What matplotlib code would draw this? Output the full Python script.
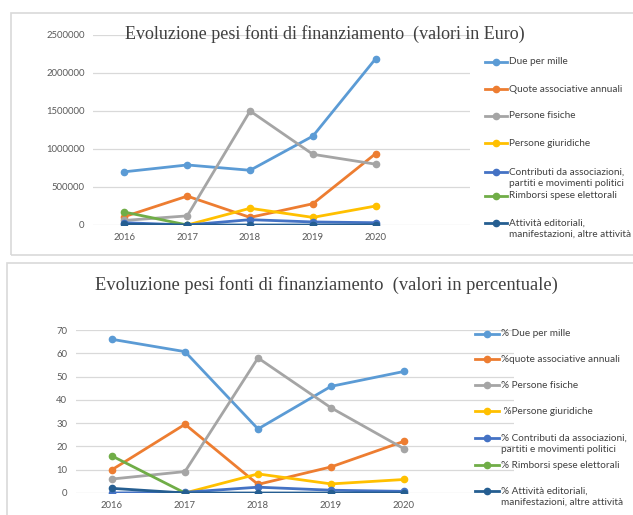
import matplotlib.pyplot as plt
import numpy as np
from matplotlib.lines import Line2D
from matplotlib.patches import Rectangle

nan = np.nan
years = ['2016', '2017', '2018', '2019', '2020']

# valori in Euro
euro_due_per_mille = [700000, 790000, 720000, 1170000, 2190000]
euro_quote = [110000, 380000, 100000, 280000, 940000]
euro_fisiche = [60000, 120000, 1500000, 930000, 800000]
euro_giuridiche = [nan, 0, 220000, 100000, 250000]
euro_contributi = [30000, 0, 70000, 40000, 30000]
euro_rimborsi = [170000, 0, nan, nan, nan]
euro_attivita = [10000, 0, 0, 0, 0]

# valori in percentuale
pct_due_per_mille = [66.0, 60.7, 27.5, 45.8, 52.2]
pct_quote = [10.0, 29.5, 3.7, 11.2, 22.2]
pct_fisiche = [6.0, 9.2, 58.0, 36.6, 19.0]
pct_giuridiche = [nan, 0, 8.2, 3.9, 5.8]
pct_contributi = [0, 0.3, 2.5, 1.2, 0.7]
pct_rimborsi = [15.9, 0, nan, nan, nan]
pct_attivita = [2.0, 0, 0, 0, 0]

labels_euro = ['Due per mille', 'Quote associative annuali', 'Persone fisiche',
               'Persone giuridiche', 'Contributi da associazioni,\npartiti e movimenti politici',
               'Rimborsi spese elettorali', 'Attività editoriali,\nmanifestazioni, altre attività']
labels_pct = ['% Due per mille', '%quote associative annuali', '% Persone fisiche',
              ' %Persone giuridiche', '% Contributi da associazioni,\npartiti e movimenti politici',
              '% Rimborsi spese elettorali', '% Attività editoriali,\nmanifestazioni, altre attività']

colors = ['#5B9BD5', '#ED7D31', '#A5A5A5', '#FFC000', '#4472C4', '#70AD47', '#255E91']

W, H = 633, 515
fig = plt.figure(figsize=(W / 100, H / 100), dpi=100)
sans = ['Lato', 'DejaVu Sans']
serif = ['Liberation Serif', 'DejaVu Serif']
tick_col = '#595959'


def px(x, y):
    return x / W, 1 - y / H


# panel frames
fig.add_artist(Rectangle(px(11, 255), (W + 5 - 11) / W, (255 - 13) / H,
                         fill=False, ec='#d9d9d9', lw=1.2, transform=fig.transFigure))
fig.add_artist(Rectangle(px(7, H + 5), (W + 5 - 7) / W, (H + 5 - 263) / H,
                         fill=False, ec='#d9d9d9', lw=1.2, transform=fig.transFigure))


def draw_panel(ax, series, yticks, ylim):
    x = np.arange(len(years))
    for s, c in zip(series, colors):
        ax.plot(x, s, color=c, lw=2.0, marker='o', ms=4.5, zorder=3)
    ax.set_xlim(-0.5, 5.5)
    ax.set_ylim(*ylim)
    ax.set_xticks(x)
    ax.set_xticklabels(years, family=sans, fontsize=6.8, color=tick_col)
    ax.set_yticks(yticks)
    ax.set_yticklabels([str(v) for v in yticks], family=sans, fontsize=6.8, color=tick_col)
    ax.tick_params(length=0, pad=6)
    ax.grid(axis='y', color='#d9d9d9', lw=0.9)
    ax.set_axisbelow(True)
    for sp in ax.spines.values():
        sp.set_visible(False)


def draw_legend(labels, x0, x1, xt, ys):
    for lab, c, y in zip(labels, colors, ys):
        fx0, fy = px(x0, y)
        fx1, _ = px(x1, y)
        fig.add_artist(Line2D([fx0, fx1], [fy, fy], color=c, lw=2.0, transform=fig.transFigure))
        fig.add_artist(Line2D([(fx0 + fx1) / 2], [fy], color=c, marker='o', ms=4.5,
                              transform=fig.transFigure))
        fig.text(*px(xt, y - 4.5), lab, family=sans, fontsize=7.2, color='#404040',
                 va='top', ha='left', linespacing=1.35)


# top panel
ax1 = fig.add_axes([93 / W, 1 - 225 / H, 377 / W, 190 / H])
draw_panel(ax1, [euro_due_per_mille, euro_quote, euro_fisiche, euro_giuridiche,
                 euro_contributi, euro_rimborsi, euro_attivita],
           list(range(0, 2500001, 500000)), (0, 2500000))
fig.text(*px(325, 34), 'Evoluzione pesi fonti di finanziamento  (valori in Euro)',
         family=serif, fontsize=13, color='#404040', ha='center', va='center')
draw_legend(labels_euro, 485, 507, 509, [62, 89, 116, 143, 172, 196, 223])

# bottom panel
ax2 = fig.add_axes([75.5 / W, 1 - 493 / H, 438 / W, 163 / H])
draw_panel(ax2, [pct_due_per_mille, pct_quote, pct_fisiche, pct_giuridiche,
                 pct_contributi, pct_rimborsi, pct_attivita],
           list(range(0, 71, 10)), (0, 70))
fig.text(*px(326, 285), 'Evoluzione pesi fonti di finanziamento  (valori in percentuale)',
         family=serif, fontsize=13.3, color='#404040', ha='center', va='center')
draw_legend(labels_pct, 475, 499, 501, [334, 359, 385, 411, 438, 465, 491])

fig.savefig('out.png', dpi=100)
